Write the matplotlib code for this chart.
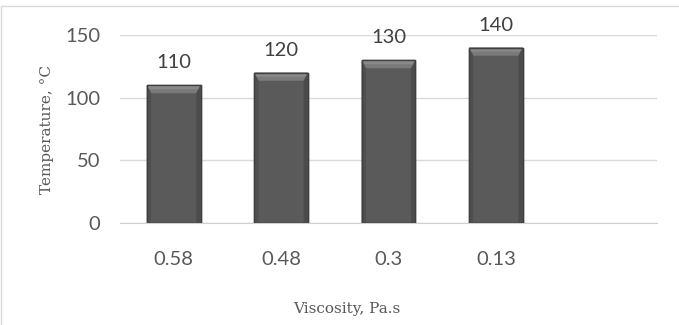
import matplotlib.pyplot as plt
import matplotlib.patches as mpatches
from matplotlib.lines import Line2D
import numpy as np

# viscosity categories (Pa.s) and the matching temperatures (°C)
viscosity = ['0.58', '0.48', '0.3', '0.13']
temperature = [110, 120, 130, 140]
n_slots = 5  # one empty slot on the right of the category axis

tick_font = 'Lato'
label_font = 'DejaVu Serif'
text_col = '#595959'

fig = plt.figure(figsize=(6.79, 3.25), dpi=100)
# light frame on the left and top edges of the chart area
fig.lines.append(Line2D([0.0015, 0.0015, 1.0], [0.0, 0.981, 0.981], transform=fig.transFigure,
                        color='#d9d9d9', lw=1.0))
ax = fig.add_axes([0.1767, 0.3138, 0.7909, 0.5785])

x = np.arange(len(viscosity))
bars = ax.bar(x, temperature, width=0.5, color='#5a5a5a', edgecolor='#404040',
              linewidth=1.0, zorder=3)

# bevel highlight on top and darker sides of each bar
bev_h = 6.5
for b in bars:
    x0, w, h = b.get_x(), b.get_width(), b.get_height()
    bev = 0.08 * w
    ax.add_patch(mpatches.Polygon([(x0, h), (x0 + w, h), (x0 + w - bev, h - bev_h), (x0 + bev, h - bev_h)],
                                  closed=True, facecolor='#7a7a7a', edgecolor='none', zorder=4))
    ax.add_patch(mpatches.Polygon([(x0, h), (x0 + w, h), (x0 + w - bev / 2, h - bev_h / 2), (x0 + bev / 2, h - bev_h / 2)],
                                  closed=True, facecolor='#8a8a8a', edgecolor='none', zorder=4))
    ax.add_patch(mpatches.Polygon([(x0, 0), (x0, h), (x0 + bev, h - bev_h), (x0 + bev, 0)],
                                  closed=True, facecolor='#4f4f4f', edgecolor='none', zorder=4))
    ax.add_patch(mpatches.Polygon([(x0 + w, 0), (x0 + w, h), (x0 + w - bev, h - bev_h), (x0 + w - bev, 0)],
                                  closed=True, facecolor='#4c4c4c', edgecolor='none', zorder=4))
    ax.add_patch(mpatches.Rectangle((x0, 0), w, h, fill=False, edgecolor='#404040', lw=1.0, zorder=5))
    ax.text(b.get_x() + w / 2, h + 11, f'{h:g}', ha='center', va='bottom',
            fontsize=14.5, family=tick_font, color='#404040')

ax.set_xlim(-0.5, n_slots - 0.5)
ax.set_ylim(0, 150)
ax.set_yticks([0, 50, 100, 150])
ax.set_xticks(x)
ax.set_xticklabels(viscosity)
ax.yaxis.grid(True, color='#d9d9d9', lw=1.0, zorder=0)
ax.set_axisbelow(True)
for s in ['top', 'right', 'left']:
    ax.spines[s].set_visible(False)
ax.spines['bottom'].set_color('#d0d0d0')
ax.tick_params(axis='both', length=0, labelsize=14.5, labelcolor=text_col)
ax.tick_params(axis='x', pad=20)
ax.tick_params(axis='y', pad=14)
for lbl in ax.get_xticklabels() + ax.get_yticklabels():
    lbl.set_family(tick_font)

ax.set_ylabel('Temperature, °C', family=label_font, fontsize=11, color=text_col, labelpad=8)
fig.text(0.51, 0.05, 'Viscosity, Pa.s', ha='center', va='center',
         family=label_font, fontsize=11, color=text_col)

fig.savefig('out.png', dpi=100)
